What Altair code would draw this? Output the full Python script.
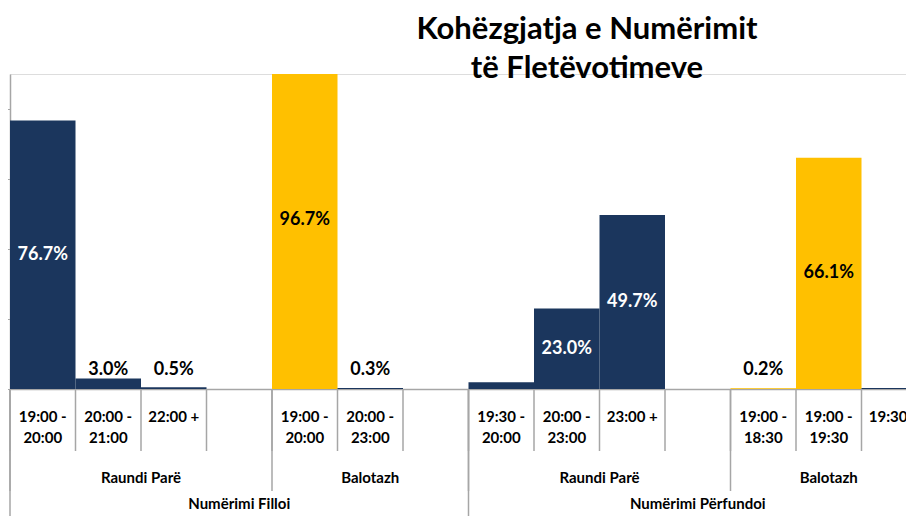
import altair as alt
import pandas as pd

# ---- data ----
title_lines = ["Kohëzgjatja e Numërimit", "të Fletëvotimeve"]
level3 = ["Numërimi Filloi"] * 7 + ["Numërimi Përfundoi"] * 7
level2 = (["Raundi Parë"] * 4 + ["Balotazh"] * 3 +
          ["Raundi Parë"] * 4 + ["Balotazh"] * 3)
level1 = ["19:00 -\n20:00", "20:00 -\n21:00", "22:00 +", "",
          "19:00 -\n20:00", "20:00 -\n23:00", "",
          "19:30 -\n20:00", "20:00 -\n23:00", "23:00 +", "",
          "19:00 -\n18:30", "19:00 -\n19:30", "19:30 +"]
values = [76.7, 3.0, 0.5, None,
          96.7, 0.3, None,
          1.9, 23.0, 49.7, None,
          0.2, 66.1, 0.3]
series = ["Seria 1", "Seria 1", "Seria 1", None,
          "Seria 2", "Seria 1", None,
          "Seria 1", "Seria 1", "Seria 1", None,
          "Seria 2", "Seria 2", "Seria 1"]
show_label = [True, True, True, False,
              True, True, False,
              False, True, True, False,
              True, True, False]

NAVY = "#1B365D"
GOLD = "#FFC000"
GRAY = "#A6A6A6"
FONT = "Lato"

n = len(level1)
rows = []
for i in range(n):
    v = values[i]
    rows.append({
        "i": i, "start": i, "end": i + 1, "mid": i + 0.5,
        "level1": level1[i], "level2": level2[i], "level3": level3[i],
        "value": v, "series": series[i],
        "label": (f"{v:.1f}%" if (v is not None and show_label[i]) else ""),
        "label_y": (None if v is None else (v / 2 if v >= 10 else 5.4)),
        "label_color": ("white" if (v is not None and v >= 10 and series[i] == "Seria 1") else "black"),
    })
df = pd.DataFrame(rows)
bars_df = df[df["value"].notna()]
labels_df = df[df["label"] != ""]


def groups(keys):
    out = []
    start = 0
    for k in range(1, n + 1):
        if k == n or keys[k] != keys[start] or level3[k] != level3[start]:
            out.append({"name": keys[start], "start": start, "end": k, "mid": (start + k) / 2})
            start = k
    return pd.DataFrame(out)


g2 = groups(level2)
g3 = groups(level3)
b1 = pd.DataFrame({"b": list(range(n + 1))})
b2 = pd.DataFrame({"b": sorted(set(g2["start"]).union(g2["end"]))})
b3 = pd.DataFrame({"b": sorted(set(g3["start"]).union(g3["end"]))})

SLOT = 65.5
W = 896
H = 315
xscale = alt.Scale(domain=[0, W / SLOT], nice=False, zero=False)
yscale = alt.Scale(domain=[0, 90], nice=False)

bars = alt.Chart(bars_df).mark_bar(clip=True).encode(
    x=alt.X("start:Q", scale=xscale,
            axis=alt.Axis(labels=False, ticks=False, grid=False, title=None,
                          domainColor=GRAY, domainWidth=1.5)),
    x2="end:Q",
    y=alt.Y("value:Q", scale=yscale,
            axis=alt.Axis(values=list(range(0, 91, 10)), labels=False, ticks=True,
                          tickSize=4, tickColor=GRAY, domainColor=GRAY, domainWidth=1.5,
                          grid=False, title=None)),
    y2=alt.datum(0),
    color=alt.Color("series:N", scale=alt.Scale(domain=["Seria 1", "Seria 2"],
                                                range=[NAVY, GOLD]), legend=None),
)

labels = alt.Chart(labels_df).mark_text(font=FONT, fontWeight="bold", fontSize=18,
                                        baseline="middle", align="center").encode(
    x=alt.X("mid:Q", scale=xscale),
    y=alt.Y("label_y:Q", scale=yscale),
    text="label:N",
    color=alt.Color("label_color:N", scale=None),
)

lvl1_text = alt.Chart(df).mark_text(font=FONT, fontWeight="bold", fontSize=15,
                                    baseline="top", align="center",
                                    lineBreak="\n", lineHeight=21).encode(
    x=alt.X("mid:Q", scale=xscale),
    y=alt.value(H + 21),
    text="level1:N",
)
lvl2_text = alt.Chart(g2).mark_text(font=FONT, fontWeight="bold", fontSize=15,
                                    baseline="middle", align="center").encode(
    x=alt.X("mid:Q", scale=xscale), y=alt.value(H + 89), text="name:N")
lvl3_text = alt.Chart(g3).mark_text(font=FONT, fontWeight="bold", fontSize=15,
                                    baseline="middle", align="center").encode(
    x=alt.X("mid:Q", scale=xscale), y=alt.value(H + 115), text="name:N")

r1 = alt.Chart(b1).mark_rule(color=GRAY, strokeWidth=1.5).encode(
    x=alt.X("b:Q", scale=xscale), y=alt.value(H), y2=alt.value(H + 62))
r2 = alt.Chart(b2).mark_rule(color=GRAY, strokeWidth=1.5).encode(
    x=alt.X("b:Q", scale=xscale), y=alt.value(H), y2=alt.value(H + 102))
r3 = alt.Chart(b3).mark_rule(color=GRAY, strokeWidth=1.5).encode(
    x=alt.X("b:Q", scale=xscale), y=alt.value(H), y2=alt.value(H + 140))

title = alt.Chart(pd.DataFrame({"t": ["\n".join(title_lines)]})).mark_text(
    font=FONT, fontWeight="bold", fontSize=31, lineBreak="\n", lineHeight=39,
    baseline="middle", align="center", color="black").encode(
    x=alt.value(577), y=alt.value(-44), text="t:N")

chart = alt.layer(bars, labels, r1, r2, r3, lvl1_text, lvl2_text, lvl3_text, title).properties(
    width=W, height=H,
    autosize=alt.AutoSizeParams(type="none"),
    padding={"left": 2, "top": 66, "right": 0, "bottom": 127},
).configure_view(stroke=None).configure(background="white")

chart.save("out.html", embed_options={"renderer": "svg", "actions": False})
